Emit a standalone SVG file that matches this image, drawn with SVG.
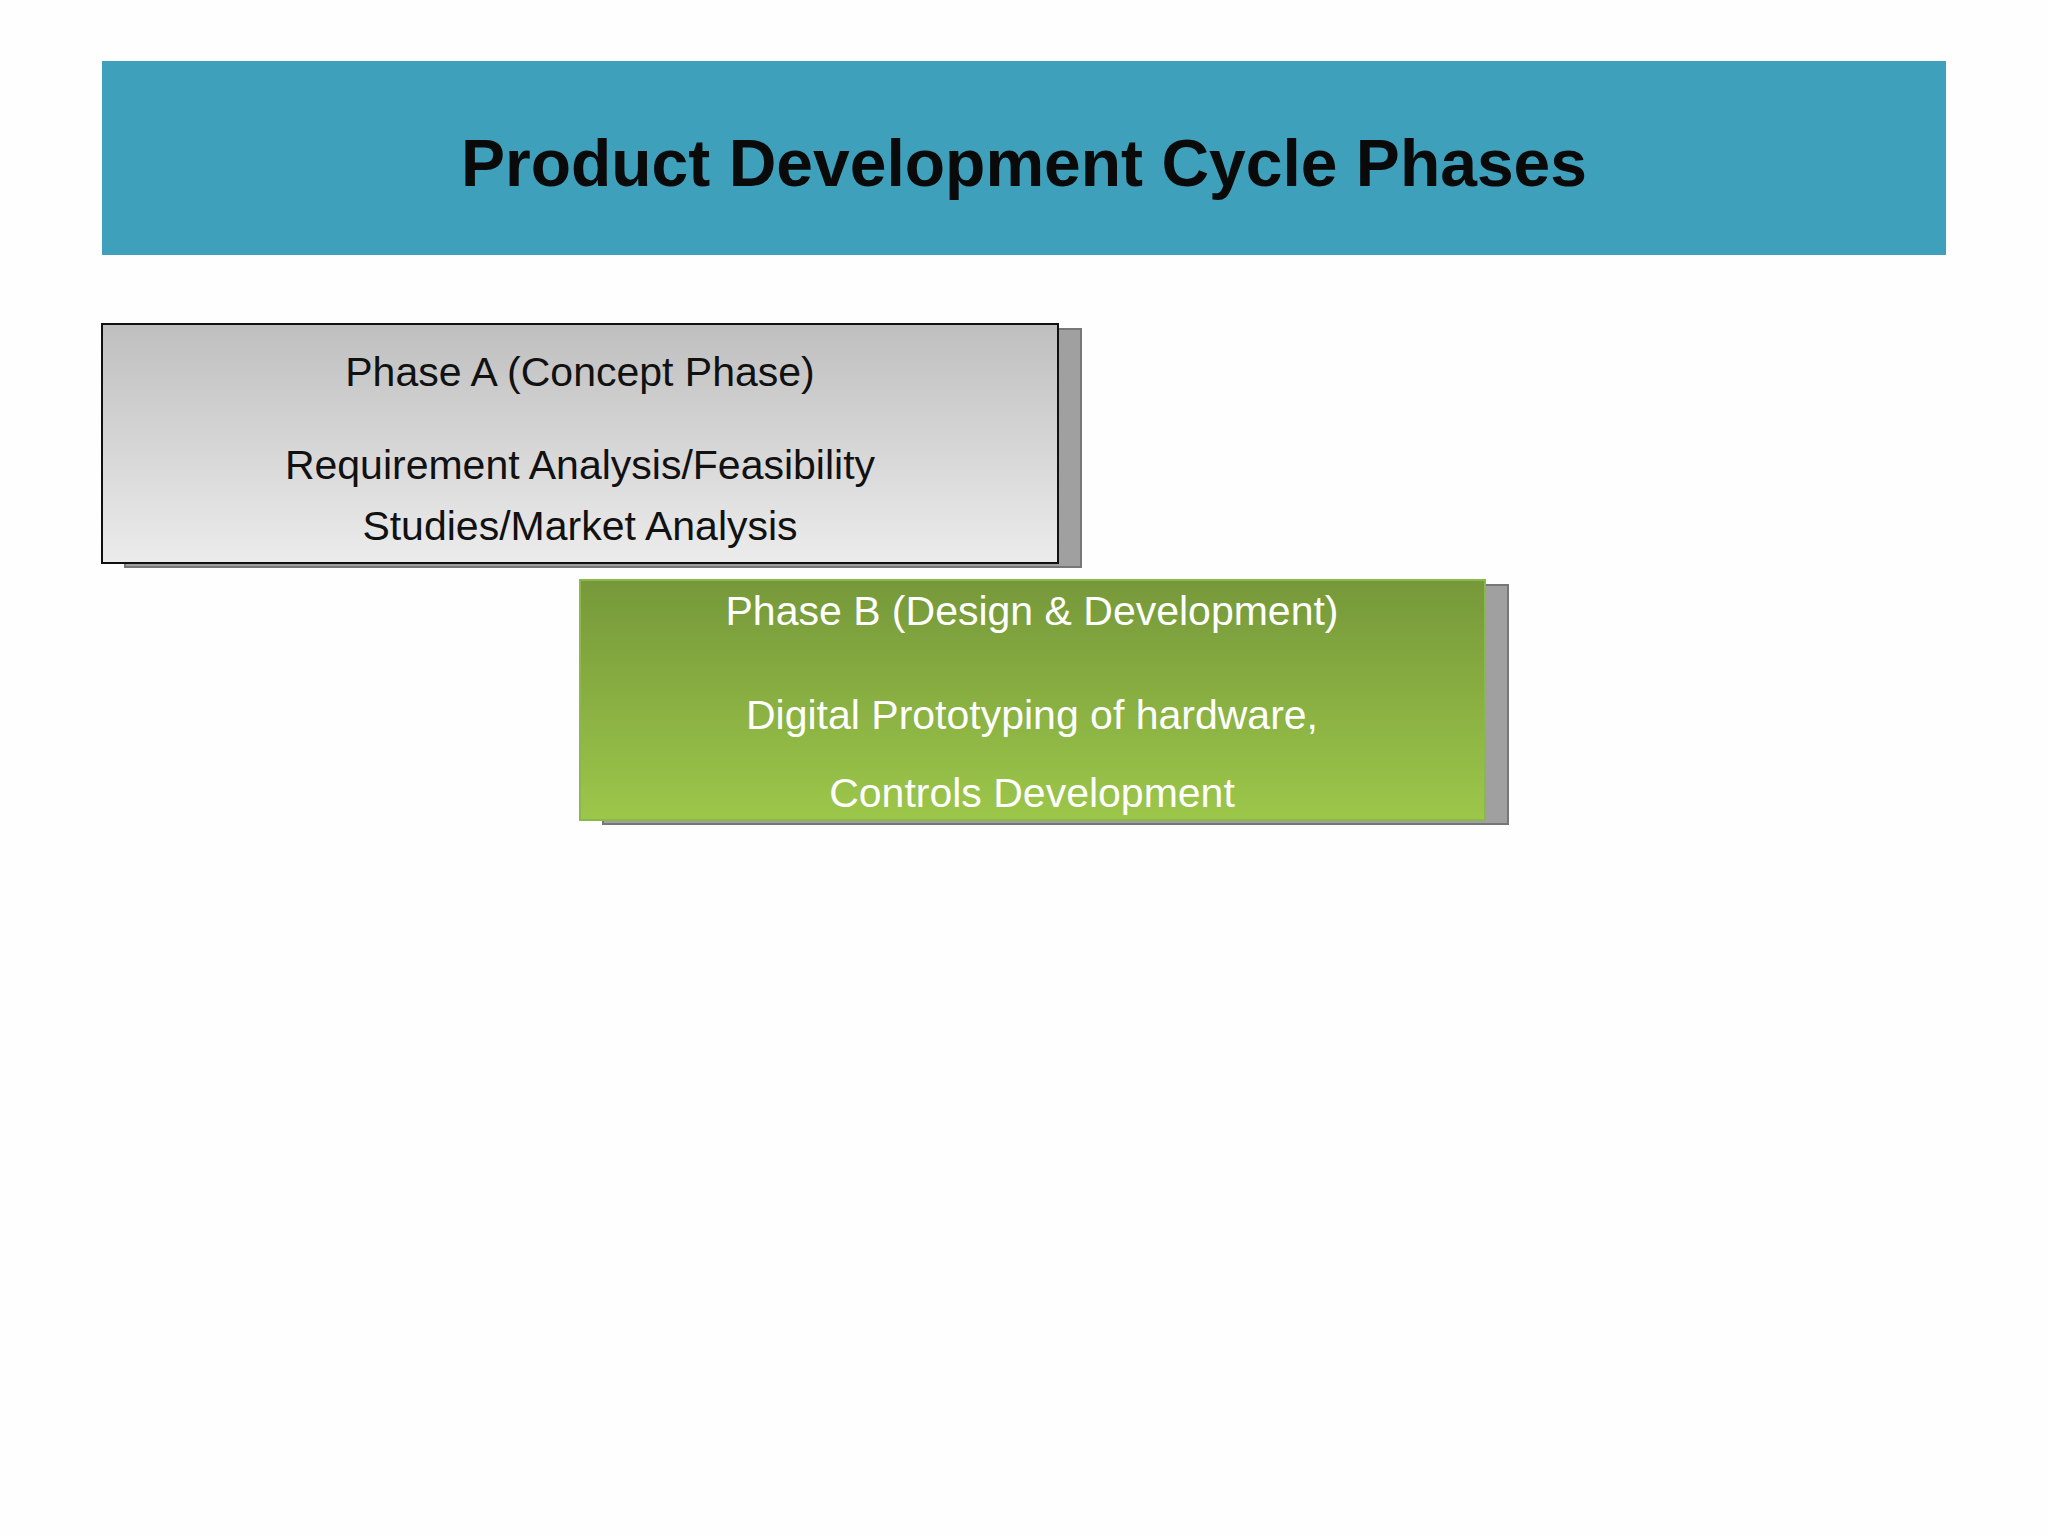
<svg xmlns="http://www.w3.org/2000/svg" width="2048" height="1536" viewBox="0 0 2048 1536">
<defs>
<linearGradient id="gA" x1="0" y1="0" x2="0" y2="1"><stop offset="0" stop-color="#bfbfbf"/><stop offset="1" stop-color="#ececec"/></linearGradient>
<linearGradient id="gB" x1="0" y1="0" x2="0" y2="1"><stop offset="0" stop-color="#76983a"/><stop offset="1" stop-color="#9cc74a"/></linearGradient>
</defs>
<style>
text{font-family:"Liberation Sans","Open Sans",sans-serif;text-anchor:middle}
.a{font-size:41px;fill:#111}
.b{font-size:41px;fill:#fff}
</style>
<rect width="2048" height="1536" fill="#fefefe"/>
<g id="title">
<rect x="102" y="61" width="1844" height="194" fill="#3fa0bc"/>
<text x="1024" y="186" font-size="66" font-weight="bold" fill="#0a0a0a">Product Development Cycle Phases</text>
</g>
<g id="phaseA">
<rect x="125" y="329" width="956" height="238" fill="#a0a0a0" stroke="#777" stroke-width="2"/>
<rect x="102" y="324" width="956" height="239" fill="url(#gA)" stroke="#111" stroke-width="2"/>
<text class="a" x="580" y="386">Phase A (Concept Phase)</text>
<text class="a" x="580" y="479">Requirement Analysis/Feasibility</text>
<text class="a" x="580" y="540">Studies/Market Analysis</text>
</g>
<g id="phaseB">
<rect x="603" y="585" width="905" height="239" fill="#a0a0a0" stroke="#777" stroke-width="2"/>
<rect x="580" y="580" width="905" height="240" fill="url(#gB)" stroke="#8ab84a" stroke-width="2"/>
<text class="b" x="1032" y="625">Phase B (Design &amp; Development)</text>
<text class="b" x="1032" y="729">Digital Prototyping of hardware,</text>
<text class="b" x="1032" y="807" font-size="58">Controls Development</text>
</g>
<g id="connectors"/>
</svg>
